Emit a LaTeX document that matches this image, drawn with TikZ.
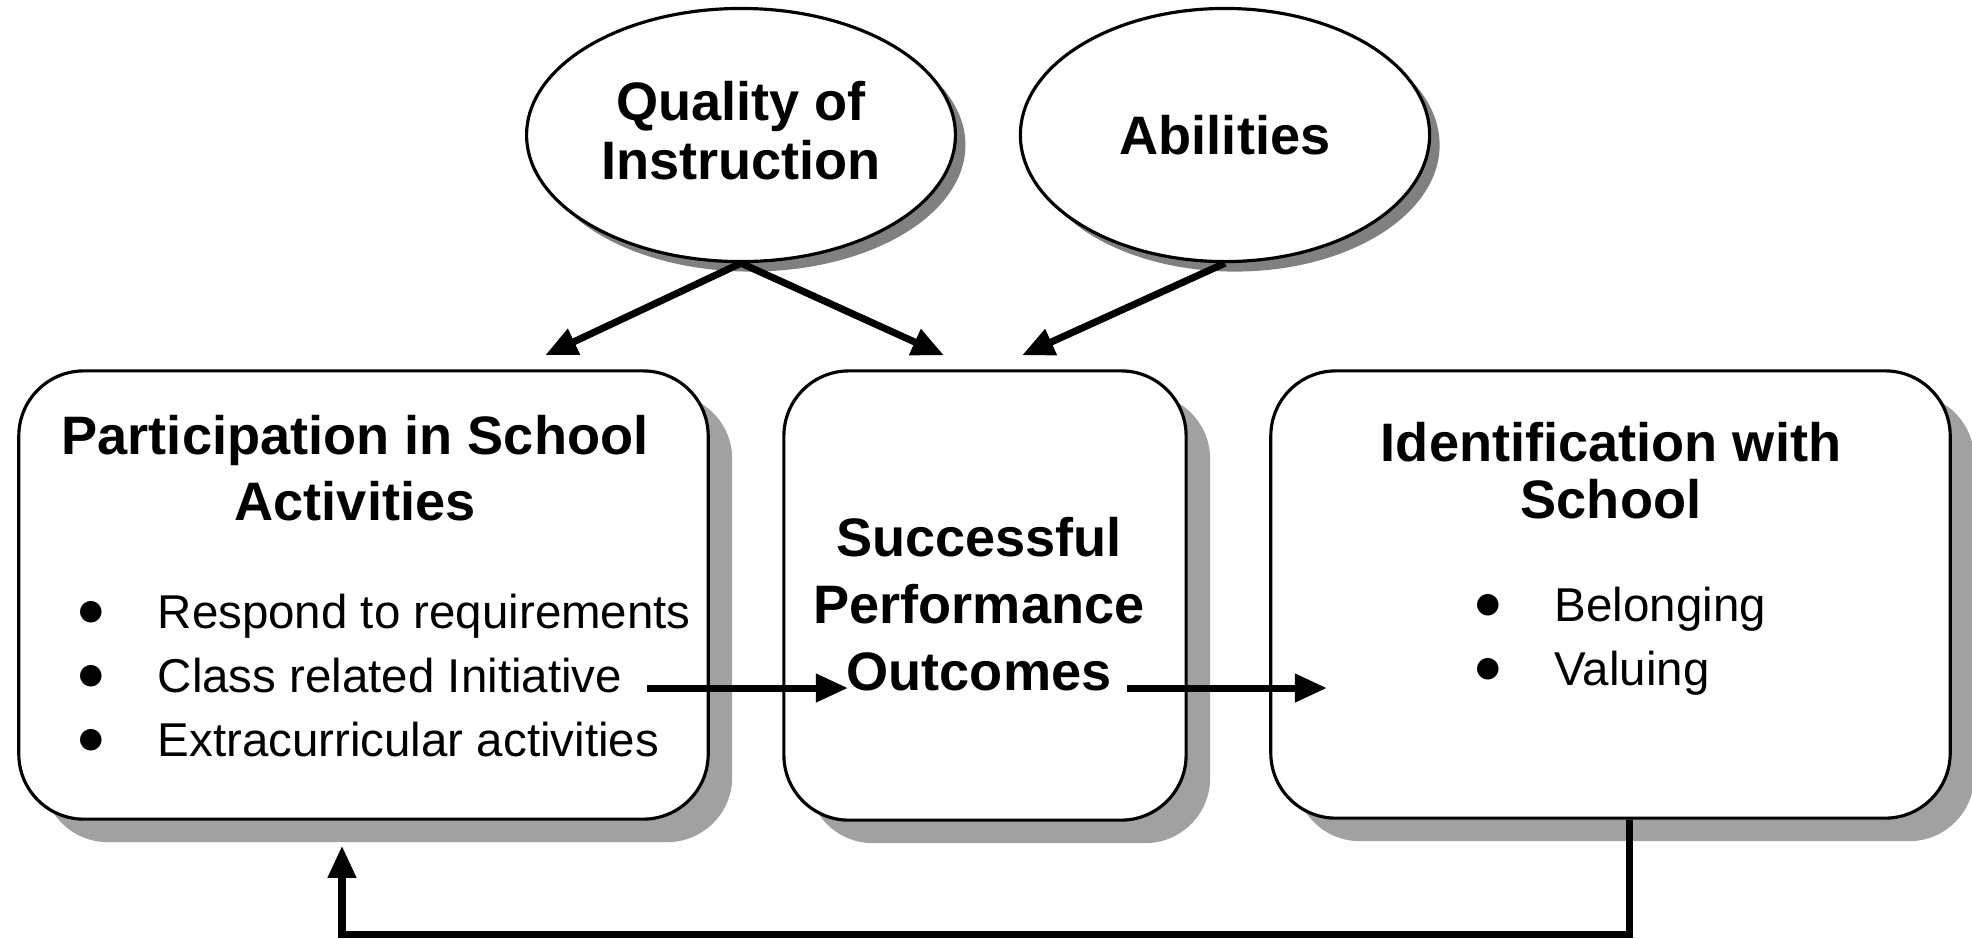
\documentclass[tikz,border=0pt]{standalone}
\usepackage{fontspec}
\setmainfont{Liberation Sans}
\newfontfamily\symfont{DejaVu Sans}
\usetikzlibrary{arrows.meta,shapes.geometric,shadows}

\newcommand{\headfont}[1]{\bfseries\fontsize{15.4}{#1pt}\selectfont}
\newcommand{\itemfont}{\fontsize{13.5}{18.2}\selectfont}
\newcommand{\bul}{\makebox[0.79cm][l]{\raisebox{2.6pt}{\symfont\fontsize{8}{8}\selectfont ●}}}

\begin{document}
\begin{tikzpicture}[x=0.01cm,y=-0.01cm,
 box/.style={draw,line width=0.9pt,rounded corners=0.65cm,fill=white,
  drop shadow={shadow xshift=0.24cm,shadow yshift=-0.23cm,fill=black!37,opacity=1}},
 cause/.style={ellipse,draw,line width=0.9pt,fill=white,align=center,
  minimum width=4.09cm,minimum height=2.53cm,
  drop shadow={shadow xshift=0.1cm,shadow yshift=-0.1cm,fill=black!50,opacity=1}},
 head/.style={align=center,inner sep=0pt},
 items/.style={align=left,inner sep=0pt,anchor=west,font=\itemfont},
 arr/.style={line width=2pt,-{Triangle[length=0.32cm,width=0.27cm]}}]
 \useasboundingbox (0,0) rectangle (1972,938);
 % causes
 \node[cause,font=\headfont{16.8}] (qoi) at (741,135) {Quality of\\Instruction\rule[-0.1cm]{0pt}{0.1cm}};
 \node[cause,font=\headfont{16.8}] (abil) at (1225,135) {Abilities};
 % blocks
 \node[box,minimum width=6.89cm,minimum height=4.48cm] (part) at (363.5,595) {};
 \node[box,minimum width=4.02cm,minimum height=4.49cm] (perf) at (985,595.5) {};
 \node[box,minimum width=6.79cm,minimum height=4.47cm] (ident) at (1610.5,594.5) {};
 % block texts
 \node[head,font=\headfont{18.8}] (parthead) at (355,468) {Participation in School\\Activities};
 \node[items] (partitems) at (78,676) {\bul Respond to requirements\\\bul Class related Initiative\\\bul Extracurricular activities};
 \node[head,font=\headfont{19}] (perfhead) at (979,604) {Successful\\Performance\\Outcomes};
 \node[head,font=\headfont{16.2}] (identhead) at (1611,471) {Identification with\\School};
 \node[items] (identitems) at (1475,641) {\bul Belonging\\\bul Valuing};
 % arrow ends
 \coordinate (partin) at ([xshift=1.815cm,yshift=0.14cm]part.north);
 \coordinate (perfin1) at ([xshift=-0.41cm,yshift=0.14cm]perf.north);
 \coordinate (perfin2) at ([xshift=0.37cm,yshift=0.14cm]perf.north);
 \coordinate (partout) at (647,688);
 \coordinate (perfin3) at (848,688);
 \coordinate (perfout) at (1127,688);
 \coordinate (identin) at (1327,688);
 \path[arr]
 (qoi.south) edge (partin)
 (qoi.south) edge (perfin1)
 (abil.south) edge (perfin2)
 (partout) edge (perfin3)
 (perfout) edge (identin);
 % feedback
 \draw[arr] ([xshift=0.185cm]ident.south) -- ++(0,115) -| ([xshift=-0.215cm,yshift=-0.25cm]part.south);
\end{tikzpicture}
\end{document}
